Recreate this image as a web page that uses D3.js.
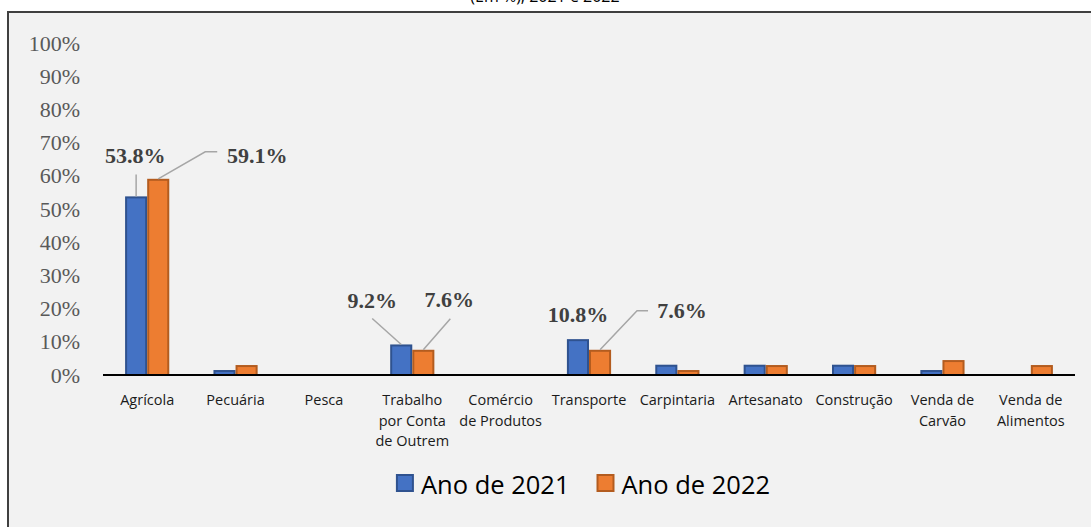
<!DOCTYPE html>
<html>
<head>
<meta charset="utf-8">
<script src="https://cdn.jsdelivr.net/npm/d3@7"></script>
<style>
  body { margin: 0; background: #fff; }
</style>
</head>
<body>
<div id="chartArea"></div>
<script>
// data
var categories = ['Agrícola', 'Pecuária', 'Pesca', 'Trabalho por Conta de Outrem', 'Comércio de Produtos',
    'Transporte', 'Carpintaria', 'Artesanato', 'Construção', 'Venda de Carvão', 'Venda de Alimentos'];
var catLines = [['Agrícola'], ['Pecuária'], ['Pesca'], ['Trabalho', 'por Conta', 'de Outrem'], ['Comércio', 'de Produtos'],
    ['Transporte'], ['Carpintaria'], ['Artesanato'], ['Construção'], ['Venda de', 'Carvão'], ['Venda de', 'Alimentos']];
var seriesNames = ['Ano de 2021', 'Ano de 2022'];
var values2021 = [0.538, 0.015, 0, 0.092, 0, 0.108, 0.031, 0.031, 0.031, 0.015, 0];
var values2022 = [0.591, 0.030, 0, 0.076, 0, 0.076, 0.015, 0.030, 0.030, 0.045, 0.030];
var yTicks = [0, 0.1, 0.2, 0.3, 0.4, 0.5, 0.6, 0.7, 0.8, 0.9, 1];
// which bars carry a data label (category index, series index)
var labelled = [[0, 0], [0, 1], [3, 0], [3, 1], [5, 0], [5, 1]];

// label placement, relative to the top centre of its bar
var labelOffsets = [
    {dx: -1, dy: -33, leader: [[0, 0], [0, -22]]},
    {dx: 99, dy: -16, leader: [[0, 0], [47, -27], [59, -27]]},
    {dx: -29, dy: -36, leader: [[0, 0], [-29, -26]]},
    {dx: 26, dy: -43, leader: [[0, 0], [27, -31]]},
    {dx: 0, dy: -17, leader: null},
    {dx: 82, dy: -32, leader: [[0, 0], [37, -39], [48, -39]]}
];

var W = 1091, H = 527;
var colors = ['#4472c4', '#ed7d31'];
var borders = ['#2f528f', '#b35c1f'];
var allValues = [values2021, values2022];

var svg = d3.select('#chartArea').append('svg')
    .attr('width', W)
    .attr('height', H);

svg.append('rect').attr('width', W).attr('height', H).attr('fill', '#fff');

// title, mostly cut off by the top edge as in the source
svg.append('text')
    .attr('x', 545).attr('y', 2)
    .attr('text-anchor', 'middle')
    .style('font-family', 'Open Sans, sans-serif')
    .style('font-size', '16px')
    .attr('fill', '#000')
    .text('(Em %), 2021 e 2022');

svg.append('rect')
    .attr('x', 8).attr('y', 12)
    .attr('width', W + 10).attr('height', H)
    .attr('fill', '#f2f2f2')
    .attr('stroke', '#404040')
    .attr('stroke-width', 2);

var xScale = d3.scaleBand()
    .domain(categories)
    .range([103, 1075])
    .paddingInner(0.5)
    .paddingOuter(0.25);

var xSub = d3.scaleBand()
    .domain([0, 1])
    .range([0, xScale.bandwidth()]);

var yScale = d3.scaleLinear()
    .domain([0, 1])
    .range([375, 43]);

// y tick labels
var yAxis = d3.axisLeft(yScale)
    .tickValues(yTicks)
    .tickFormat(d3.format('.0%'))
    .tickSize(0)
    .tickPadding(0);

var gy = svg.append('g')
    .attr('transform', 'translate(80,0)')
    .call(yAxis);
gy.select('.domain').remove();
gy.selectAll('text')
    .style('font-family', 'Liberation Serif, Times New Roman, serif')
    .style('font-size', '22px')
    .attr('fill', '#595959');

// bars
seriesNames.forEach(function (name, s) {
    var rows = allValues[s].map(function (v, i) { return {cat: categories[i], v: v}; })
        .filter(function (d) { return d.v > 0; });
    svg.append('g').selectAll('rect')
        .data(rows)
        .enter()
        .append('rect')
        .attr('class', 'bar')
        .attr('x', function (d) { return xScale(d.cat) + xSub(s) + 1; })
        .attr('y', function (d) { return yScale(d.v) + 1; })
        .attr('width', xSub.bandwidth() - 2)
        .attr('height', function (d) { return Math.max(0, yScale(0) - yScale(d.v) - 1); })
        .attr('fill', colors[s])
        .attr('stroke', borders[s])
        .attr('stroke-width', 2);
});

// x axis line
svg.append('line')
    .attr('x1', xScale.range()[0]).attr('x2', xScale.range()[1])
    .attr('y1', yScale(0)).attr('y2', yScale(0))
    .attr('stroke', '#000')
    .attr('stroke-width', 2);

// category labels
var gx = svg.append('g');
categories.forEach(function (c, i) {
    var cx = xScale(c) + xScale.bandwidth() / 2;
    var t = gx.append('text')
        .attr('x', cx)
        .attr('y', 405)
        .attr('text-anchor', 'middle')
        .style('font-family', 'Open Sans, sans-serif')
        .style('font-size', '14.5px')
        .attr('fill', '#1a1a1a');
    catLines[i].forEach(function (line, k) {
        t.append('tspan')
            .attr('x', cx)
            .attr('dy', k === 0 ? 0 : 20.5)
            .text(line);
    });
});

// data labels with leader lines
var fmt = d3.format('.1%');
labelled.forEach(function (pair, k) {
    var c = categories[pair[0]], s = pair[1];
    var v = allValues[s][pair[0]];
    var bx = xScale(c) + xSub(s) + xSub.bandwidth() / 2;
    var by = yScale(v);
    var off = labelOffsets[k];
    if (off.leader) {
        svg.append('path')
            .attr('d', d3.line()(off.leader.map(function (p) { return [bx + p[0], by + p[1]]; })))
            .attr('fill', 'none')
            .attr('stroke', '#a6a6a6')
            .attr('stroke-width', 1.5);
    }
    svg.append('text')
        .attr('x', bx + off.dx)
        .attr('y', by + off.dy)
        .attr('text-anchor', 'middle')
        .style('font-family', 'Liberation Serif, Times New Roman, serif')
        .style('font-size', '22px')
        .style('font-weight', 'bold')
        .attr('fill', '#404040')
        .text(fmt(v));
});

// legend
var legend = svg.append('g');
var lx = 0;
seriesNames.forEach(function (name, s) {
    var item = legend.append('g').attr('transform', 'translate(' + lx + ',0)');
    item.append('rect')
        .attr('x', 1).attr('y', 475)
        .attr('width', 16).attr('height', 16)
        .attr('fill', colors[s])
        .attr('stroke', borders[s])
        .attr('stroke-width', 2);
    var t = item.append('text')
        .attr('x', 25).attr('y', 494)
        .style('font-family', 'Open Sans, sans-serif')
        .style('font-size', '25.5px')
        .attr('fill', '#000')
        .text(name);
    lx += 25 + t.node().getComputedTextLength() + 27;
});
var lw = lx - 27;
legend.attr('transform', 'translate(' + (583 - lw / 2) + ',0)');
</script>
</body>
</html>
